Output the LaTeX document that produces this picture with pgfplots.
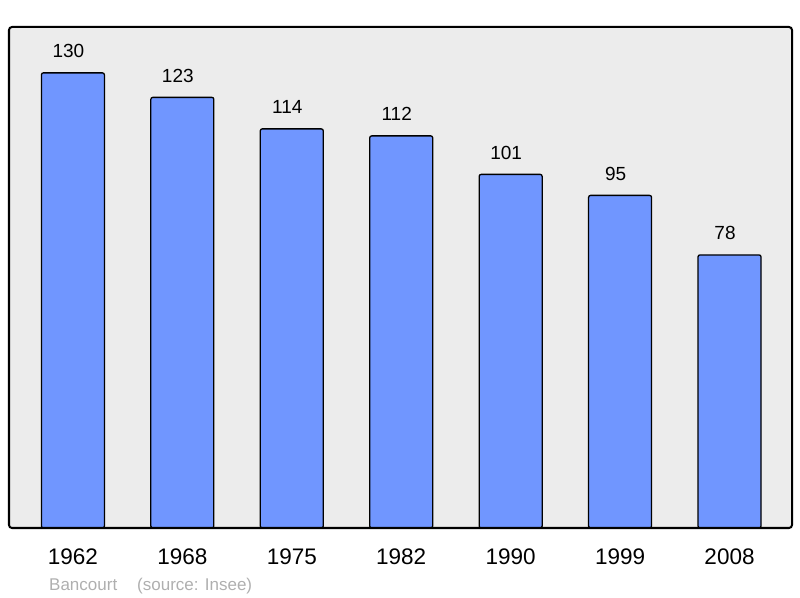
\documentclass[border=0pt]{standalone}
\usepackage{fontspec}
\setmainfont{Liberation Sans}
\usepackage{pgfplots}
\pgfplotsset{compat=1.18}
\definecolor{barblue}{RGB}{112,150,255}
\definecolor{bggray}{RGB}{236,236,236}
\definecolor{srcgray}{RGB}{175,175,175}

\begin{document}
\begin{tikzpicture}
\useasboundingbox (-9bp,-70bp) rectangle (791bp,528bp);
\begin{axis}[
  at={(0,0)}, anchor=south west,
  scale only axis,
  width=783bp, height=501bp,
  xmin=-0.584, xmax=6.571,
  ymin=0, ymax=143.1,
  ybar, bar width=63bp,
  axis line style={draw=none},
  axis background/.style={fill=bggray, rounded corners=3bp},
  xtick={0,...,6},
  xticklabels={1962,1968,1975,1982,1990,1999,2008},
  ytick=\empty,
  major tick length=0pt,
  xticklabel style={font=\fontsize{22.5bp}{26bp}\selectfont, anchor=base, yshift=-36.5bp, inner sep=0pt},
  /pgf/number format/assume math mode=true,
  nodes near coords,
  every node near coord/.append style={font=\fontsize{19bp}{23bp}\selectfont, anchor=base, xshift=-4.5bp, yshift=15bp, inner sep=0pt},
  after end axis/.code={
    \draw[line width=2bp, rounded corners=3bp] (rel axis cs:0,0) rectangle (rel axis cs:1,1);
  },
]
\addplot[fill=barblue, draw=black, line width=1.3bp, rounded corners=2bp]
  coordinates {(0,130)(1,123)(2,114)(3,112)(4,101)(5,95)(6,78)};
\end{axis}
\node[anchor=base west, inner sep=0pt, text=srcgray, font=\fontsize{17bp}{20bp}\selectfont] at (40bp,-62bp) {Bancourt};
\node[anchor=base west, inner sep=0pt, text=srcgray, font=\fontsize{17bp}{20bp}\selectfont] at (128bp,-62bp) {(source: Insee)};
\end{tikzpicture}
\end{document}
